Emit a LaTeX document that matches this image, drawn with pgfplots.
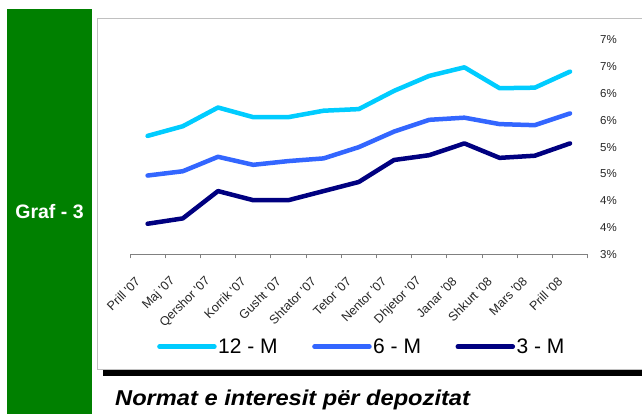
\documentclass[border=0pt]{standalone}
\usepackage{fontspec}
\setmainfont{Liberation Sans}
\usepackage{pgfplots}
\pgfplotsset{compat=1.18}
\definecolor{cTwelve}{HTML}{00CCFF}
\definecolor{cSix}{HTML}{3366FF}
\definecolor{cThree}{HTML}{000080}
\definecolor{grafgreen}{HTML}{008000}
\definecolor{boxgray}{HTML}{C0C0C0}
\definecolor{axgray}{HTML}{808080}

\begin{document}
\begin{tikzpicture}
\useasboundingbox (0pt,0pt) rectangle (642pt,414pt);
% side panel and frame
\fill[grafgreen] (7pt,0pt) rectangle (92pt,405pt);
\node[white,font=\bfseries\fontsize{19.5}{21}\selectfont] at (49.5pt,202.3pt) {Graf - 3};
\draw[boxgray,line width=0.8pt,fill=white] (97pt,45pt) rectangle (660pt,396pt);
\fill[black] (103pt,38pt) rectangle (660pt,43.5pt);
\node[anchor=base west,inner sep=0pt,font=\bfseries\itshape\fontsize{21.5}{24}\selectfont]
  at (115pt,8pt) {\scalebox{1.1}[1]{Normat e interesit për depozitat}};

\begin{axis}[
  at={(130pt,159.7pt)}, anchor=south west,
  scale only axis, width=457.6pt, height=214.3pt,
  xmin=-0.5, xmax=12.5, ymin=3, ymax=7,
  axis x line*=bottom, axis y line*=right,
  y axis line style={draw=none},
  x axis line style={draw=axgray,line width=0.8pt},
  xtick={0,...,12},
  xticklabels={Prill \textquotesingle07,Maj \textquotesingle07,Qershor \textquotesingle07,
    Korrik \textquotesingle07,Gusht \textquotesingle07,Shtator \textquotesingle07,
    Tetor \textquotesingle07,Nentor \textquotesingle07,Dhjetor \textquotesingle07,
    Janar \textquotesingle08,Shkurt \textquotesingle08,Mars \textquotesingle08,
    Prill \textquotesingle08},
  major x tick style={draw=none},
  minor xtick={-0.5,0.5,...,12.5},
  minor tick length=4pt,
  xtick align=outside,
  minor x tick style={draw=axgray,line width=0.8pt},
  ytick={3,3.5,4,4.5,5,5.5,6,6.5,7},
  yticklabels={3\%,4\%,4\%,5\%,5\%,6\%,6\%,7\%,7\%},
  ytick style={draw=none},
  tick label style={text=black!85},
  yticklabel style={font=\fontsize{11.5}{13}\selectfont,anchor=west,inner sep=0pt,xshift=12.4pt},
  xticklabel style={font=\fontsize{12.5}{14}\selectfont,xshift=-9pt,yshift=-20pt,rotate=45,anchor=east,inner sep=1pt},
  every axis plot/.append style={line width=4.5pt,line cap=round,line join=round},
  legend columns=3,
  legend style={at={(axis description cs:0.059,-0.431)},anchor=west,
    draw=none,fill=none,inner sep=0pt,
    font=\fontsize{21}{23}\selectfont,
    nodes={inner sep=1.5pt},
    /tikz/every even column/.append style={column sep=33pt}},
  legend image code/.code={\draw[#1] (0pt,0pt) -- (55pt,0pt);},
  clip=false,
]
\addplot[cTwelve] coordinates {(0,5.21)(1,5.39)(2,5.74)(3,5.56)(4,5.56)(5,5.68)(6,5.71)
  (7,6.05)(8,6.33)(9,6.49)(10,6.10)(11,6.11)(12,6.41)};
\addlegendentry{12 - M}
\addplot[cSix] coordinates {(0,4.47)(1,4.55)(2,4.82)(3,4.67)(4,4.74)(5,4.79)(6,5.00)
  (7,5.29)(8,5.51)(9,5.55)(10,5.43)(11,5.41)(12,5.63)};
\addlegendentry{6 - M}
\addplot[cThree] coordinates {(0,3.57)(1,3.67)(2,4.18)(3,4.01)(4,4.01)(5,4.18)(6,4.35)
  (7,4.76)(8,4.85)(9,5.07)(10,4.80)(11,4.84)(12,5.07)};
\addlegendentry{3 - M}
\end{axis}
\end{tikzpicture}
\end{document}
